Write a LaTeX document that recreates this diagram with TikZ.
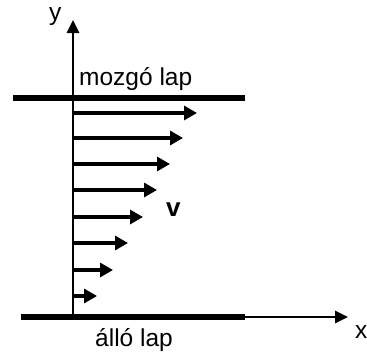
\documentclass[tikz,border=0pt]{standalone}
\usepackage{fontspec}
\setmainfont{Liberation Sans}
\usetikzlibrary{arrows.meta}
\begin{document}
\begin{tikzpicture}[x=1pt,y=-1pt,
  plate/.style={line width=6pt},
  axis/.style={line width=2.6pt,-{Triangle[length=13pt,width=12pt]}},
  vel/.style={line width=3.2pt,-{Triangle[length=13pt,width=14pt]}},
  lbl/.style={font=\fontsize{24.5}{28}\selectfont, inner sep=0pt, anchor=base west}]
\useasboundingbox (0,0) rectangle (367,351);
% coordinates
\coordinate (O) at (73,317);
\coordinate (ytip) at (73,20);
\coordinate (xtip) at (348,317);
\coordinate (pe) at (245,317);
\coordinate (bl) at (21,317);
\coordinate (tl) at (13,98);
\coordinate (tr) at (245,98);
% plates
\draw[plate] (tl) -- (tr);
\draw[plate] (bl) -- (pe);
% axes
\draw[axis] (O) -- (ytip);
\draw[axis] (pe) -- (xtip);
% velocity profile
\foreach \i/\yy/\xx in {1/113/197, 2/138/183, 3/164/170, 4/190/157, 5/217/143, 6/243/128, 7/270/113, 8/296/97}{
  \coordinate (s\i) at (73,\yy);
  \coordinate (e\i) at (\xx,\yy);
  \draw[vel] (s\i) -- (e\i);
}
% labels
\node[lbl] (ylab) at (49,20) {y};
\node[lbl] (xlab) at (355,338) {x};
\node[lbl] (top) at (79,85) {mozgó lap};
\node[lbl] (bot) at (95,346) {álló lap};
\node[lbl, font=\fontsize{26}{30}\selectfont\bfseries] (v) at (166,216) {v};
\end{tikzpicture}
\end{document}
